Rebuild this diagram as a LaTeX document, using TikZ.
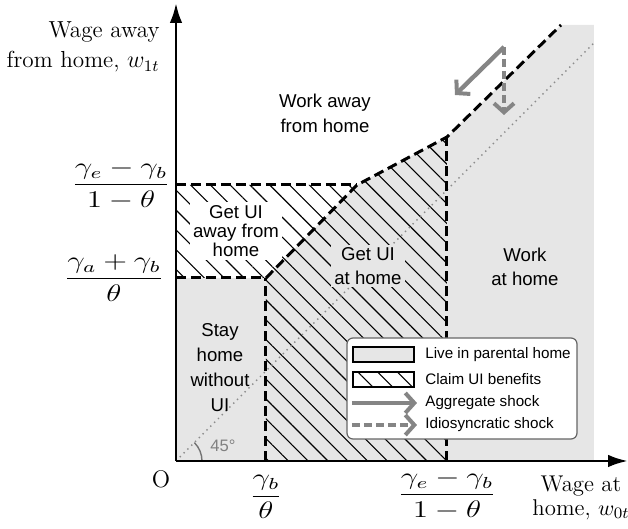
\documentclass[tikz,border=0pt]{standalone}
\usepackage{fontspec}
\setsansfont{Liberation Sans}
\usepackage{amsmath}
\usetikzlibrary{arrows.meta,patterns.meta,positioning,calc}
\definecolor{homeGray}{HTML}{E6E6E6}
\definecolor{shockGray}{HTML}{858585}
\newcommand{\ancho}[1]{\scalebox{1.3}[1]{$\displaystyle #1$}}
\tikzset{
  zona/.style={font=\sffamily\fontsize{9.3}{#1}\selectfont, align=center, inner sep=1.5pt},
  zona/.default={11.8},
  ejelbl/.style={font=\fontsize{12}{15}\selectfont, inner sep=0pt},
  borde/.style={dash pattern=on 5pt off 2.5pt, line width=1.5pt},
  rayado/.style={pattern={Lines[angle=-45,distance=7pt,line width=0.55pt]}},
  arrshock/.style={-{Straight Barb[length=4.5pt,width=10pt,line width=2pt]}, line width=2.2pt, shockGray},
  leyenda/.style={draw=black!60, rounded corners=3pt, fill=white, line width=0.6pt},
  muestra/.style={draw=black, line width=1.1pt, minimum width=30.5pt, minimum height=7.5pt, inner sep=0pt},
  leytxt/.style={font=\sffamily\fontsize{7.6}{9}\selectfont, inner sep=0pt, anchor=west},
}

\begin{document}
\begin{tikzpicture}[x=0.5pt,y=0.5pt]
\useasboundingbox (-176,-68) rectangle (452,461);
% puntos del borde
\coordinate (O) at (0,0);
\coordinate (A) at (90,183);
\coordinate (B) at (181,276);
\coordinate (C) at (271,324);
\coordinate (D) at (385,436);
% zonas
\fill[homeGray] (O) -- (0,183) -- (A) -- (B) -- (C) -- (D) -- (418,436) -- (418,0) -- cycle;
\pattern[rayado] (0,276) -- (B) -- (C) -- (271,0) -- (90,0) -- (A) -- (0,183) -- cycle;
\draw[black!45, dotted, line width=0.7pt] (O) -- (418,418);
\draw[black!55, line width=0.7pt] (26,0) arc (0:45:26);
\node[font=\sffamily\fontsize{8.3}{10}\selectfont, text=black!50, inner sep=0pt] (ang) at (47,15) {45°};
% etiquetas
\node[zona=12.5] (wah) at (149,348) {Work away\\from home};
\node[zona=9.5, fill=white] (uiah) at (60,230) {Get UI\\away from\\home};
\node[zona, fill=homeGray] (uih) at (192,195) {Get UI\\at home};
\node[zona] (wh) at (349,194) {Work\\at home};
\node[zona=12.5] (sh) at (44,93) {Stay\\home\\without\\UI};
% bordes
\draw[borde] (0,276) -- (B);
\draw[borde] (0,183) -- (A);
\draw[borde] (90,0) -- (A);
\draw[borde] (271,0) -- (C);
\draw[borde] (A) -- (B) -- (C) -- (D);
% ejes
\draw[-{Latex[length=3.5mm,width=2.2mm]}, line width=1.4pt] (O) -- (0,458) coordinate (ytop);
\draw[-{Latex[length=3.5mm,width=2.2mm]}, line width=1.4pt] (O) -- (452,0) coordinate (xend);
\node[ejelbl, font=\fontsize{11.6}{15}\selectfont, align=right, anchor=east] (ylbl) at (-16,414) {Wage away\\from home, $w_{1t}$};
\node[ejelbl, font=\fontsize{11.4}{11.6}\selectfont, align=center] (xlbl) at (405,-37) {Wage at\\home, $w_{0t}$};
\node[ejelbl] (orig) at (-15,-18) {O};
\node[ejelbl] (y1) at (-55,276) {\ancho{\frac{\gamma_e-\gamma_b}{1-\theta}}};
\node[ejelbl] (y2) at (-62,183) {\ancho{\frac{\gamma_a+\gamma_b}{\theta}}};
\node[ejelbl] (x1) at (90,-36) {\ancho{\frac{\gamma_b}{\theta}}};
\node[ejelbl] (x2) at (271,-34) {\ancho{\frac{\gamma_e-\gamma_b}{1-\theta}}};
% choques
\coordinate (s0) at (328,414);
\coordinate (s1) at (279,366);
\coordinate (s2) at (328,346);
\draw[arrshock] (s0) -- (s1);
\draw[arrshock, dash pattern=on 4pt off 2pt] (s0) -- (s2);
% leyenda
\node[leyenda, minimum width=115pt, minimum height=50.5pt] (ley) at (286,72.5) {};
\node[muestra, fill=homeGray] (m1) at (207.5,106.5) {};
\node[muestra, rayado] (m2) at (207.5,81.5) {};
\node[leytxt] (t1) at (249,106.5) {Live in parental home};
\node[leytxt] (t2) at (249,81.5) {Claim UI benefits};
\node[leytxt] (t3) at (249,58) {Aggregate shock};
\node[leytxt] (t4) at (249,36) {Idiosyncratic shock};
\draw[arrshock] (176,58) -- ([xshift=-4pt]t3.west);
\draw[arrshock, dash pattern=on 4pt off 2pt] (176,36) -- ([xshift=-4pt]t4.west);
\end{tikzpicture}
\end{document}
